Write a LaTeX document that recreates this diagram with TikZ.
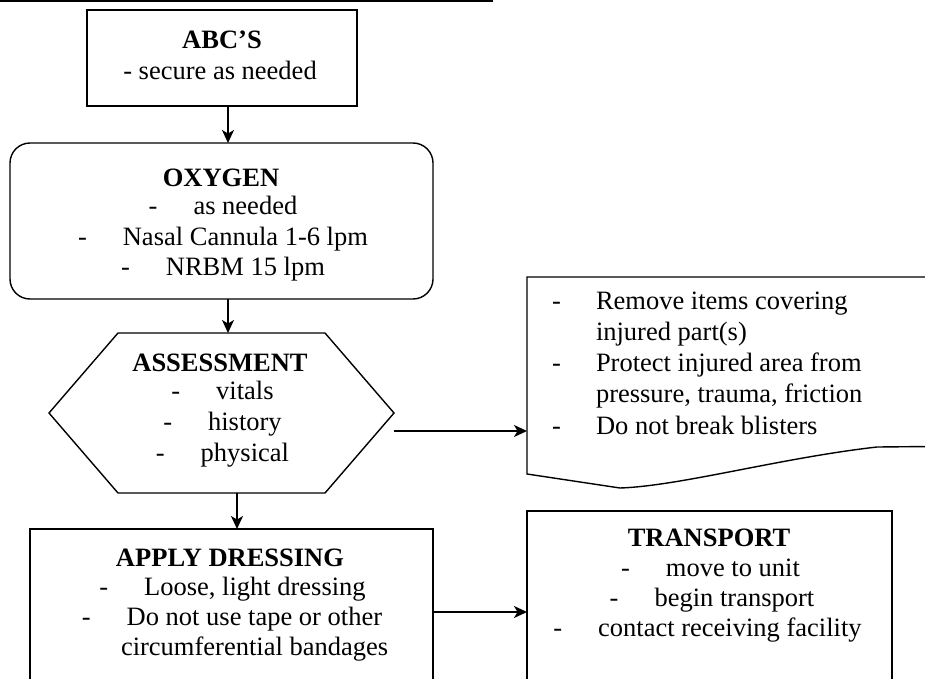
\documentclass[tikz,border=0pt]{standalone}
\usepackage{fontspec}
\setmainfont{Liberation Serif}
\usetikzlibrary{arrows.meta,calc}

\tikzset{
  boxline/.style={draw=black, line width=1.4pt},
  shapebox/.style={boxline, inner sep=0pt, outer sep=0pt},
  anchorbox/.style={inner sep=0pt, outer sep=0pt},
  arr/.style={line width=1.6pt, -{Stealth[length=13pt,width=12pt,inset=3.5pt]}},
  txt/.style={inner sep=0pt, outer sep=0pt, font=\fontsize{26.5}{30}\selectfont},
}
\newcommand{\dashitem}[1]{-\hspace{36pt}#1}

\begin{document}
\begin{tikzpicture}[x=1pt, y=-1pt]
  \clip (0,0) rectangle (925,679);
  \useasboundingbox (0,0) rectangle (925,679);
  \fill[white] (0,0) rectangle (925,679);

  % rule across the top
  \coordinate (ruleL) at (0,1);
  \coordinate (ruleR) at (493,1);
  \draw[line width=1.6pt] (ruleL) -- (ruleR);

  % ---- ABC'S ----
  \node[shapebox, minimum width=270pt, minimum height=96pt] (abc) at (222,58) {};
  \node[txt, anchor=base] (abcT) at (222,49) {\textbf{ABC’S}};
  \node[txt, anchor=base] (abc1) at (220,79.5) {- secure as needed};

  % ---- OXYGEN ----
  \node[shapebox, rounded corners=20pt, minimum width=423pt, minimum height=156pt] (oxy) at (221.5,221) {};
  \node[txt, anchor=base] (oxyT) at (221,186) {\textbf{OXYGEN}};
  \node[txt, anchor=base] (oxy1) at (223,214.5) {\dashitem{as needed}};
  \node[txt, anchor=base] (oxy2) at (223,245) {\dashitem{Nasal Cannula 1-6 lpm}};
  \node[txt, anchor=base] (oxy3) at (223,275) {\dashitem{NRBM 15 lpm}};

  % ---- ASSESSMENT (hexagon) ----
  \node[anchorbox, minimum width=345pt, minimum height=160pt] (hex) at (221.5,413) {};
  \draw[boxline, line join=miter]
    ($(hex.north west)+(69,0)$) -- ($(hex.north east)+(-69,0)$) -- (hex.east)
    -- ($(hex.south east)+(-69,0)$) -- ($(hex.south west)+(69,0)$) -- (hex.west) -- cycle;
  \node[txt, anchor=base] (hexT) at (220,371) {\textbf{ASSESSMENT}};
  \node[txt, anchor=base] (hex1) at (222.5,399) {\dashitem{vitals}};
  \node[txt, anchor=base] (hex2) at (222.5,430) {\dashitem{history}};
  \node[txt, anchor=base] (hex3) at (222.5,461.5) {\dashitem{physical}};

  % ---- care notes (document shape, runs off the right edge) ----
  \node[anchorbox, minimum width=400pt, minimum height=197pt, anchor=north west] (doc) at (527,277) {};
  \draw[boxline, line join=miter]
    (930,277) -- (527,277) -- (527,474) -- (620,488)
    .. controls (680,486) and (780,458) .. (877,447) -- (930,446.5);
  \node[txt, anchor=base west] (docD1) at (552,309.5) {-};
  \node[txt, anchor=base west] (doc1) at (596,309.5) {Remove items covering};
  \node[txt, anchor=base west] (doc1b) at (596,340.5) {injured part(s)};
  \node[txt, anchor=base west] (docD2) at (552,371.5) {-};
  \node[txt, anchor=base west] (doc2) at (596,371.5) {Protect injured area from};
  \node[txt, anchor=base west] (doc2b) at (596,402.5) {pressure, trauma, friction};
  \node[txt, anchor=base west] (docD3) at (552,434) {-};
  \node[txt, anchor=base west] (doc3) at (596,434) {Do not break blisters};

  % ---- APPLY DRESSING (runs off the bottom) ----
  \node[shapebox, minimum width=403pt, minimum height=180pt, anchor=north west] (apply) at (30,529) {};
  \node[txt, anchor=base] (applyT) at (230,566) {\textbf{APPLY DRESSING}};
  \node[txt, anchor=base] (apply1) at (232.5,595) {\dashitem{Loose, light dressing}};
  \node[txt, anchor=base] (apply2) at (232,625) {\dashitem{Do not use tape or other}};
  \node[txt, anchor=base west] (apply2b) at (121,655) {circumferential bandages};

  % ---- TRANSPORT (runs off the bottom) ----
  \node[shapebox, minimum width=365pt, minimum height=200pt, anchor=north west] (trans) at (527,511) {};
  \node[txt, anchor=base] (transT) at (709,546) {\textbf{TRANSPORT}};
  \node[txt, anchor=base] (trans1) at (710.5,576) {\dashitem{move to unit}};
  \node[txt, anchor=base] (trans2) at (712,606.5) {\dashitem{begin transport}};
  \node[txt, anchor=base] (trans3) at (707.5,636.5) {\dashitem{contact receiving facility}};

  % ---- connectors ----
  \coordinate (c1) at (228,0);
  \coordinate (c3) at (0,431);
  \coordinate (c4) at (237,0);
  \coordinate (c5) at (0,612);
  \draw[arr] (abc.south -| c1) -- (oxy.north -| c1);
  \draw[arr] (oxy.south -| c1) -- (hex.north -| c1);
  \draw[arr] (hex.east |- c3) -- (doc.west |- c3);
  \draw[arr] (hex.south -| c4) -- (apply.north -| c4);
  \draw[arr] (apply.east |- c5) -- (trans.west |- c5);
\end{tikzpicture}
\end{document}
